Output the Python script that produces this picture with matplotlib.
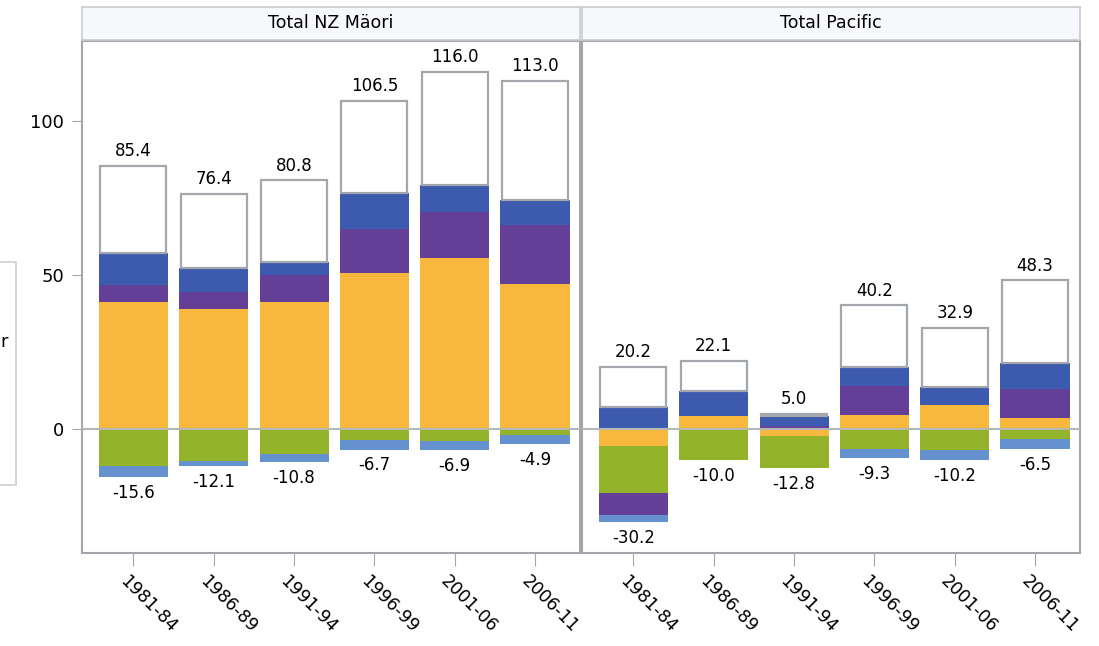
import matplotlib.pyplot as plt
from matplotlib.patches import Rectangle
from matplotlib.transforms import ScaledTranslation

plt.rcParams["font.family"] = ["DejaVu Sans"]

periods = ["1981-84", "1986-89", "1991-94", "1996-99", "2001-06", "2006-11"]
panels = ["Total NZ Mäori", "Total Pacific"]

# Maori components
maori_orange = [41.3, 39.0, 41.1, 50.8, 55.4, 47.0]
maori_green = [-12.0, -10.3, -8.0, -3.6, -3.8, -1.9]
maori_purple = [5.5, 5.5, 8.9, 14.1, 15.2, 19.2]
maori_blue = [10.2, 7.8, 4.3, 11.6, 8.6, 8.0]
maori_lightblue = [-3.6, -1.8, -2.8, -3.1, -3.1, -3.0]
maori_pos_total = [85.4, 76.4, 80.8, 106.5, 116.0, 113.0]
maori_neg_total = [-15.6, -12.1, -10.8, -6.7, -6.9, -4.9]

# Pacific components
pac_orange = [-5.5, 4.2, -2.3, 4.6, 7.8, 3.4]
pac_green = [-15.3, -10.0, -10.5, -6.5, -6.8, -3.3]
pac_purple = [-7.0, 0.0, 0.8, 9.2, 0.0, 9.5]
pac_blue = [7.0, 8.0, 3.4, 6.3, 5.8, 8.6]
pac_lightblue = [-2.4, 0.0, 0.0, -2.8, -3.4, -3.2]
pac_pos_total = [20.2, 22.1, 5.0, 40.2, 32.9, 48.3]
pac_neg_total = [-30.2, -10.0, -12.8, -9.3, -10.2, -6.5]

colors = ["#f8b73d", "#93b42a", "#643f98", "#3d5bae", "#6591cf"]
gray = "#a3a7ab"

data = [
    ([maori_orange, maori_green, maori_purple, maori_blue, maori_lightblue],
     maori_pos_total, maori_neg_total),
    ([pac_orange, pac_green, pac_purple, pac_blue, pac_lightblue],
     pac_pos_total, pac_neg_total),
]

fig = plt.figure(figsize=(10.99, 6.46), dpi=100)
W, H = 1099, 646
x_idx = list(range(len(periods)))

for p, (left_px, title) in enumerate(zip([82, 582], panels)):
    ax = fig.add_axes([left_px / W, 1 - 553 / H, 498 / W, 512 / H])
    comps, pos_tot, neg_tot = data[p]
    for i in x_idx:
        pos_base, neg_base = 0.0, 0.0
        for comp, c in zip(comps, colors):
            v = comp[i]
            if v >= 0:
                ax.bar(i, v, bottom=pos_base, width=0.86, color=c, linewidth=0, zorder=2)
                pos_base += v
            else:
                ax.bar(i, v, bottom=neg_base, width=0.86, color=c, linewidth=0, zorder=2)
                neg_base += v
        ax.bar(i, pos_tot[i] - pos_base, bottom=pos_base, width=0.82, color="white",
               edgecolor=gray, linewidth=1.6, zorder=2)
        ax.annotate(f"{pos_tot[i]:.1f}", (i, pos_tot[i]), xytext=(0, 4),
                    textcoords="offset points", ha="center", va="bottom", fontsize=12)
        ax.annotate(f"{neg_tot[i]:.1f}", (i, neg_tot[i]), xytext=(0, -5),
                    textcoords="offset points", ha="center", va="top", fontsize=12)
    ax.axhline(0, color="#b5b9b5", linewidth=1.5, zorder=3)
    ax.set_xlim(-0.64, 5.56)
    ax.set_ylim(-40.3, 126)
    ax.set_xticks(x_idx)
    ax.set_xticklabels(periods, rotation=-45, ha="left", va="center",
                       rotation_mode="anchor", fontsize=12.5)
    ax.tick_params(axis="x", length=9, color=gray, pad=9)
    shift = ScaledTranslation(-11 / 100, 0, fig.dpi_scale_trans)
    for lab in ax.get_xticklabels():
        lab.set_transform(lab.get_transform() + shift)
    if p == 0:
        ax.set_yticks([0, 50, 100])
        ax.tick_params(axis="y", length=7, color=gray, labelsize=13, pad=6)
    else:
        ax.set_yticks([])
    for s in ax.spines.values():
        s.set_color(gray)
        s.set_linewidth(1.5)
    # strip header
    hx = fig.add_axes([left_px / W, 1 - 40 / H, 498 / W, 33 / H])
    hx.set_facecolor("#f6f8fc")
    hx.set_xticks([])
    hx.set_yticks([])
    for s in hx.spines.values():
        s.set_color("#c8ccd0")
        s.set_linewidth(1.2)
    hx.text(0.5, 0.5, title, ha="center", va="center", fontsize=12.5,
            transform=hx.transAxes)

# cut-off legend box at the left edge
fig.patches.append(Rectangle((-0.01, 1 - 485 / H), 27 / W, 223 / H,
                             transform=fig.transFigure, fill=False,
                             edgecolor="#cfcfcf", linewidth=1.2))
fig.text(8 / W, 1 - 342 / H, "r", ha="right", va="center", fontsize=13)

fig.savefig("out.png", dpi=100)
